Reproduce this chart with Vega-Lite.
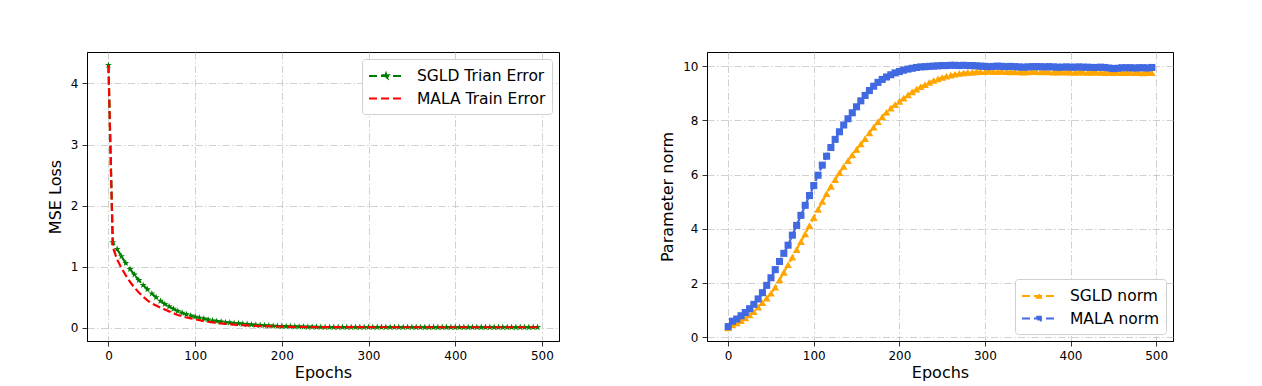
{
"$schema": "https://vega.github.io/schema/vega-lite/v6.json",
"padding": {"left": 46, "top": 51, "right": 5, "bottom": 5},
"background": "white",
"spacing": 99,
"resolve": {"scale": {"color": "independent"}, "legend": {"color": "independent"}},
"config": {
  "font": "DejaVu Sans",
  "view": {"stroke": "black", "strokeWidth": 1},
  "axis": {"grid": true, "gridColor": "#c4c4c4", "gridDash": [7, 2.5, 1.5, 2.5], "gridWidth": 0.8,
    "domainColor": "black", "domainWidth": 1, "tickColor": "black", "tickSize": 5, "tickWidth": 0.8,
    "labelFontSize": 12, "labelColor": "black", "labelPadding": 4, "labelFont": "DejaVu Sans",
    "titleFontSize": 16, "titleFontWeight": "normal", "titleColor": "black", "titleFont": "DejaVu Sans"},
  "axisX": {"titlePadding": 3},
  "axisY": {"titlePadding": 7},
  "legend": {"title": null, "fillColor": "white", "strokeColor": "#d0d0d0", "cornerRadius": 3, "padding": 6,
    "symbolSize": 400, "symbolStrokeWidth": 2, "symbolDash": [8, 4],
    "labelFontSize": 15.5, "labelColor": "black", "labelFont": "DejaVu Sans", "labelOffset": 27, "rowPadding": 2.6, "offset": 7}
},
"datasets": {
"loss": [
{"e":0,"s":"S","v":4.3},{"e":5,"s":"S","v":1.4},{"e":10,"s":"S","v":1.29},{"e":15,"s":"S","v":1.17},{"e":20,"s":"S","v":1.06},
{"e":25,"s":"S","v":0.96},{"e":30,"s":"S","v":0.87},{"e":35,"s":"S","v":0.78},{"e":40,"s":"S","v":0.7},{"e":45,"s":"S","v":0.63},
{"e":50,"s":"S","v":0.56},{"e":55,"s":"S","v":0.5},{"e":60,"s":"S","v":0.44},{"e":65,"s":"S","v":0.39},{"e":70,"s":"S","v":0.35},
{"e":75,"s":"S","v":0.31},{"e":80,"s":"S","v":0.275},{"e":85,"s":"S","v":0.245},{"e":90,"s":"S","v":0.22},{"e":95,"s":"S","v":0.2},
{"e":100,"s":"S","v":0.18},{"e":105,"s":"S","v":0.165},{"e":110,"s":"S","v":0.15},{"e":115,"s":"S","v":0.135},{"e":120,"s":"S","v":0.12},
{"e":125,"s":"S","v":0.11},{"e":130,"s":"S","v":0.1},{"e":135,"s":"S","v":0.09},{"e":140,"s":"S","v":0.085},{"e":145,"s":"S","v":0.078},
{"e":150,"s":"S","v":0.072},{"e":155,"s":"S","v":0.065},{"e":160,"s":"S","v":0.059},{"e":165,"s":"S","v":0.053},{"e":170,"s":"S","v":0.048},
{"e":175,"s":"S","v":0.044},{"e":180,"s":"S","v":0.04},{"e":185,"s":"S","v":0.036},{"e":190,"s":"S","v":0.033},{"e":195,"s":"S","v":0.03},
{"e":200,"s":"S","v":0.027},{"e":205,"s":"S","v":0.025},{"e":210,"s":"S","v":0.023},{"e":215,"s":"S","v":0.021},{"e":220,"s":"S","v":0.019},
{"e":225,"s":"S","v":0.018},{"e":230,"s":"S","v":0.016},{"e":235,"s":"S","v":0.015},{"e":240,"s":"S","v":0.014},{"e":245,"s":"S","v":0.013},
{"e":250,"s":"S","v":0.012},{"e":255,"s":"S","v":0.011},{"e":260,"s":"S","v":0.011},{"e":265,"s":"S","v":0.011},{"e":270,"s":"S","v":0.011},
{"e":275,"s":"S","v":0.011},{"e":280,"s":"S","v":0.011},{"e":285,"s":"S","v":0.011},{"e":290,"s":"S","v":0.011},{"e":295,"s":"S","v":0.011},
{"e":300,"s":"S","v":0.011},{"e":305,"s":"S","v":0.011},{"e":310,"s":"S","v":0.011},{"e":315,"s":"S","v":0.011},{"e":320,"s":"S","v":0.011},
{"e":325,"s":"S","v":0.011},{"e":330,"s":"S","v":0.011},{"e":335,"s":"S","v":0.011},{"e":340,"s":"S","v":0.011},{"e":345,"s":"S","v":0.011},
{"e":350,"s":"S","v":0.011},{"e":355,"s":"S","v":0.01},{"e":360,"s":"S","v":0.01},{"e":365,"s":"S","v":0.01},{"e":370,"s":"S","v":0.01},
{"e":375,"s":"S","v":0.01},{"e":380,"s":"S","v":0.01},{"e":385,"s":"S","v":0.01},{"e":390,"s":"S","v":0.01},{"e":395,"s":"S","v":0.01},
{"e":400,"s":"S","v":0.01},{"e":405,"s":"S","v":0.01},{"e":410,"s":"S","v":0.01},{"e":415,"s":"S","v":0.01},{"e":420,"s":"S","v":0.01},
{"e":425,"s":"S","v":0.01},{"e":430,"s":"S","v":0.01},{"e":435,"s":"S","v":0.01},{"e":440,"s":"S","v":0.01},{"e":445,"s":"S","v":0.01},
{"e":450,"s":"S","v":0.01},{"e":455,"s":"S","v":0.01},{"e":460,"s":"S","v":0.01},{"e":465,"s":"S","v":0.01},{"e":470,"s":"S","v":0.01},
{"e":475,"s":"S","v":0.01},{"e":480,"s":"S","v":0.01},{"e":485,"s":"S","v":0.01},{"e":490,"s":"S","v":0.01},{"e":495,"s":"S","v":0.01},
{"e":0,"s":"M","v":4.3},{"e":5,"s":"M","v":1.32},{"e":10,"s":"M","v":1.12},{"e":15,"s":"M","v":0.98},{"e":20,"s":"M","v":0.86},
{"e":25,"s":"M","v":0.75},{"e":30,"s":"M","v":0.66},{"e":35,"s":"M","v":0.58},{"e":40,"s":"M","v":0.51},{"e":45,"s":"M","v":0.45},
{"e":50,"s":"M","v":0.4},{"e":55,"s":"M","v":0.365},{"e":60,"s":"M","v":0.33},{"e":65,"s":"M","v":0.3},{"e":70,"s":"M","v":0.27},
{"e":75,"s":"M","v":0.24},{"e":80,"s":"M","v":0.21},{"e":85,"s":"M","v":0.19},{"e":90,"s":"M","v":0.17},{"e":95,"s":"M","v":0.155},
{"e":100,"s":"M","v":0.14},{"e":105,"s":"M","v":0.125},{"e":110,"s":"M","v":0.11},{"e":115,"s":"M","v":0.1},{"e":120,"s":"M","v":0.09},
{"e":125,"s":"M","v":0.08},{"e":130,"s":"M","v":0.072},{"e":135,"s":"M","v":0.065},{"e":140,"s":"M","v":0.06},{"e":145,"s":"M","v":0.054},
{"e":150,"s":"M","v":0.049},{"e":155,"s":"M","v":0.044},{"e":160,"s":"M","v":0.04},{"e":165,"s":"M","v":0.036},{"e":170,"s":"M","v":0.033},
{"e":175,"s":"M","v":0.03},{"e":180,"s":"M","v":0.028},{"e":185,"s":"M","v":0.026},{"e":190,"s":"M","v":0.024},{"e":195,"s":"M","v":0.022},
{"e":200,"s":"M","v":0.02},{"e":205,"s":"M","v":0.018},{"e":210,"s":"M","v":0.017},{"e":215,"s":"M","v":0.016},{"e":220,"s":"M","v":0.015},
{"e":225,"s":"M","v":0.014},{"e":230,"s":"M","v":0.013},{"e":235,"s":"M","v":0.012},{"e":240,"s":"M","v":0.012},{"e":245,"s":"M","v":0.011},
{"e":250,"s":"M","v":0.011},{"e":255,"s":"M","v":0.011},{"e":260,"s":"M","v":0.011},{"e":265,"s":"M","v":0.011},{"e":270,"s":"M","v":0.011},
{"e":275,"s":"M","v":0.011},{"e":280,"s":"M","v":0.011},{"e":285,"s":"M","v":0.011},{"e":290,"s":"M","v":0.011},{"e":295,"s":"M","v":0.011},
{"e":300,"s":"M","v":0.011},{"e":305,"s":"M","v":0.01},{"e":310,"s":"M","v":0.01},{"e":315,"s":"M","v":0.01},{"e":320,"s":"M","v":0.01},
{"e":325,"s":"M","v":0.01},{"e":330,"s":"M","v":0.01},{"e":335,"s":"M","v":0.01},{"e":340,"s":"M","v":0.01},{"e":345,"s":"M","v":0.01},
{"e":350,"s":"M","v":0.01},{"e":355,"s":"M","v":0.01},{"e":360,"s":"M","v":0.01},{"e":365,"s":"M","v":0.01},{"e":370,"s":"M","v":0.01},
{"e":375,"s":"M","v":0.01},{"e":380,"s":"M","v":0.01},{"e":385,"s":"M","v":0.01},{"e":390,"s":"M","v":0.01},{"e":395,"s":"M","v":0.01},
{"e":400,"s":"M","v":0.01},{"e":405,"s":"M","v":0.01},{"e":410,"s":"M","v":0.01},{"e":415,"s":"M","v":0.01},{"e":420,"s":"M","v":0.01},
{"e":425,"s":"M","v":0.01},{"e":430,"s":"M","v":0.01},{"e":435,"s":"M","v":0.01},{"e":440,"s":"M","v":0.01},{"e":445,"s":"M","v":0.01},
{"e":450,"s":"M","v":0.01},{"e":455,"s":"M","v":0.01},{"e":460,"s":"M","v":0.01},{"e":465,"s":"M","v":0.01},{"e":470,"s":"M","v":0.01},
{"e":475,"s":"M","v":0.01},{"e":480,"s":"M","v":0.01},{"e":485,"s":"M","v":0.01},{"e":490,"s":"M","v":0.01},{"e":495,"s":"M","v":0.01}
],
"norm": [
{"e":0,"s":"S","v":0.35},{"e":5,"s":"S","v":0.46},{"e":10,"s":"S","v":0.54},{"e":15,"s":"S","v":0.62},{"e":20,"s":"S","v":0.72},
{"e":25,"s":"S","v":0.83},{"e":30,"s":"S","v":0.95},{"e":35,"s":"S","v":1.12},{"e":40,"s":"S","v":1.28},{"e":45,"s":"S","v":1.45},
{"e":50,"s":"S","v":1.63},{"e":55,"s":"S","v":1.85},{"e":60,"s":"S","v":2.12},{"e":65,"s":"S","v":2.4},{"e":70,"s":"S","v":2.68},
{"e":75,"s":"S","v":2.96},{"e":80,"s":"S","v":3.24},{"e":85,"s":"S","v":3.53},{"e":90,"s":"S","v":3.82},{"e":95,"s":"S","v":4.12},
{"e":100,"s":"S","v":4.42},{"e":105,"s":"S","v":4.72},{"e":110,"s":"S","v":5.01},{"e":115,"s":"S","v":5.3},{"e":120,"s":"S","v":5.57},
{"e":125,"s":"S","v":5.82},{"e":130,"s":"S","v":6.07},{"e":135,"s":"S","v":6.3},{"e":140,"s":"S","v":6.52},{"e":145,"s":"S","v":6.73},
{"e":150,"s":"S","v":6.93},{"e":155,"s":"S","v":7.13},{"e":160,"s":"S","v":7.33},{"e":165,"s":"S","v":7.54},{"e":170,"s":"S","v":7.75},
{"e":175,"s":"S","v":7.95},{"e":180,"s":"S","v":8.13},{"e":185,"s":"S","v":8.3},{"e":190,"s":"S","v":8.45},{"e":195,"s":"S","v":8.58},
{"e":200,"s":"S","v":8.7},{"e":205,"s":"S","v":8.82},{"e":210,"s":"S","v":8.94},{"e":215,"s":"S","v":9.05},{"e":220,"s":"S","v":9.15},
{"e":225,"s":"S","v":9.24},{"e":230,"s":"S","v":9.32},{"e":235,"s":"S","v":9.4},{"e":240,"s":"S","v":9.47},{"e":245,"s":"S","v":9.53},
{"e":250,"s":"S","v":9.58},{"e":255,"s":"S","v":9.63},{"e":260,"s":"S","v":9.67},{"e":265,"s":"S","v":9.7},{"e":270,"s":"S","v":9.73},
{"e":275,"s":"S","v":9.75},{"e":280,"s":"S","v":9.77},{"e":285,"s":"S","v":9.78},{"e":290,"s":"S","v":9.79},{"e":295,"s":"S","v":9.8},
{"e":300,"s":"S","v":9.8},{"e":305,"s":"S","v":9.81},{"e":310,"s":"S","v":9.8},{"e":315,"s":"S","v":9.8},{"e":320,"s":"S","v":9.81},
{"e":325,"s":"S","v":9.8},{"e":330,"s":"S","v":9.79},{"e":335,"s":"S","v":9.8},{"e":340,"s":"S","v":9.79},{"e":345,"s":"S","v":9.78},
{"e":350,"s":"S","v":9.79},{"e":355,"s":"S","v":9.8},{"e":360,"s":"S","v":9.8},{"e":365,"s":"S","v":9.79},{"e":370,"s":"S","v":9.8},
{"e":375,"s":"S","v":9.79},{"e":380,"s":"S","v":9.78},{"e":385,"s":"S","v":9.78},{"e":390,"s":"S","v":9.79},{"e":395,"s":"S","v":9.78},
{"e":400,"s":"S","v":9.78},{"e":405,"s":"S","v":9.77},{"e":410,"s":"S","v":9.78},{"e":415,"s":"S","v":9.78},{"e":420,"s":"S","v":9.77},
{"e":425,"s":"S","v":9.77},{"e":430,"s":"S","v":9.78},{"e":435,"s":"S","v":9.77},{"e":440,"s":"S","v":9.76},{"e":445,"s":"S","v":9.77},
{"e":450,"s":"S","v":9.76},{"e":455,"s":"S","v":9.77},{"e":460,"s":"S","v":9.76},{"e":465,"s":"S","v":9.76},{"e":470,"s":"S","v":9.77},
{"e":475,"s":"S","v":9.76},{"e":480,"s":"S","v":9.76},{"e":485,"s":"S","v":9.75},{"e":490,"s":"S","v":9.76},{"e":495,"s":"S","v":9.76},
{"e":0,"s":"M","v":0.4},{"e":5,"s":"M","v":0.6},{"e":10,"s":"M","v":0.68},{"e":15,"s":"M","v":0.8},{"e":20,"s":"M","v":0.92},
{"e":25,"s":"M","v":1.06},{"e":30,"s":"M","v":1.22},{"e":35,"s":"M","v":1.42},{"e":40,"s":"M","v":1.65},{"e":45,"s":"M","v":1.92},
{"e":50,"s":"M","v":2.2},{"e":55,"s":"M","v":2.5},{"e":60,"s":"M","v":2.8},{"e":65,"s":"M","v":3.1},{"e":70,"s":"M","v":3.4},
{"e":75,"s":"M","v":3.77},{"e":80,"s":"M","v":4.13},{"e":85,"s":"M","v":4.5},{"e":90,"s":"M","v":4.87},{"e":95,"s":"M","v":5.23},
{"e":100,"s":"M","v":5.6},{"e":105,"s":"M","v":5.98},{"e":110,"s":"M","v":6.35},{"e":115,"s":"M","v":6.68},{"e":120,"s":"M","v":7.0},
{"e":125,"s":"M","v":7.3},{"e":130,"s":"M","v":7.58},{"e":135,"s":"M","v":7.83},{"e":140,"s":"M","v":8.06},{"e":145,"s":"M","v":8.28},
{"e":150,"s":"M","v":8.5},{"e":155,"s":"M","v":8.72},{"e":160,"s":"M","v":8.92},{"e":165,"s":"M","v":9.1},{"e":170,"s":"M","v":9.26},
{"e":175,"s":"M","v":9.4},{"e":180,"s":"M","v":9.51},{"e":185,"s":"M","v":9.6},{"e":190,"s":"M","v":9.68},{"e":195,"s":"M","v":9.75},
{"e":200,"s":"M","v":9.8},{"e":205,"s":"M","v":9.85},{"e":210,"s":"M","v":9.89},{"e":215,"s":"M","v":9.92},{"e":220,"s":"M","v":9.95},
{"e":225,"s":"M","v":9.97},{"e":230,"s":"M","v":9.98},{"e":235,"s":"M","v":9.99},{"e":240,"s":"M","v":10.0},{"e":245,"s":"M","v":10.01},
{"e":250,"s":"M","v":10.02},{"e":255,"s":"M","v":10.02},{"e":260,"s":"M","v":10.03},{"e":265,"s":"M","v":10.03},{"e":270,"s":"M","v":10.02},
{"e":275,"s":"M","v":10.03},{"e":280,"s":"M","v":10.02},{"e":285,"s":"M","v":10.02},{"e":290,"s":"M","v":10.01},{"e":295,"s":"M","v":10.0},
{"e":300,"s":"M","v":9.99},{"e":305,"s":"M","v":9.98},{"e":310,"s":"M","v":9.99},{"e":315,"s":"M","v":10.0},{"e":320,"s":"M","v":9.99},
{"e":325,"s":"M","v":9.98},{"e":330,"s":"M","v":9.99},{"e":335,"s":"M","v":9.98},{"e":340,"s":"M","v":9.97},{"e":345,"s":"M","v":9.96},
{"e":350,"s":"M","v":9.97},{"e":355,"s":"M","v":9.98},{"e":360,"s":"M","v":9.98},{"e":365,"s":"M","v":9.98},{"e":370,"s":"M","v":9.97},
{"e":375,"s":"M","v":9.98},{"e":380,"s":"M","v":9.97},{"e":385,"s":"M","v":9.96},{"e":390,"s":"M","v":9.96},{"e":395,"s":"M","v":9.97},
{"e":400,"s":"M","v":9.96},{"e":405,"s":"M","v":9.96},{"e":410,"s":"M","v":9.97},{"e":415,"s":"M","v":9.96},{"e":420,"s":"M","v":9.96},
{"e":425,"s":"M","v":9.95},{"e":430,"s":"M","v":9.95},{"e":435,"s":"M","v":9.96},{"e":440,"s":"M","v":9.95},{"e":445,"s":"M","v":9.93},
{"e":450,"s":"M","v":9.91},{"e":455,"s":"M","v":9.92},{"e":460,"s":"M","v":9.94},{"e":465,"s":"M","v":9.94},{"e":470,"s":"M","v":9.94},
{"e":475,"s":"M","v":9.93},{"e":480,"s":"M","v":9.94},{"e":485,"s":"M","v":9.94},{"e":490,"s":"M","v":9.93},{"e":495,"s":"M","v":9.95}
]
},
"hconcat": [
{
  "width": 472, "height": 289,
  "data": {"name": "loss"},
  "encoding": {
    "x": {"field": "e", "type": "quantitative", "scale": {"domain": [-24.75, 519.75], "nice": false, "zero": false},
      "axis": {"title": "Epochs", "values": [0, 100, 200, 300, 400, 500]}},
    "y": {"field": "v", "type": "quantitative", "scale": {"domain": [-0.215, 4.515], "nice": false, "zero": false},
      "axis": {"title": "MSE Loss", "values": [0, 1, 2, 3, 4]}}
  },
  "layer": [
    {"transform": [{"filter": "datum.s == 'S'"}],
     "mark": {"type": "line", "strokeDash": [8, 3.5], "strokeWidth": 2.2},
     "encoding": {"color": {"field": "s", "type": "nominal", "scale": {"domain": ["S", "M"], "range": ["#008000", "#ff0000"]},
       "legend": {"orient": "top-right", "labelExpr": "datum.label == 'S' ? 'SGLD Trian Error' : 'MALA Train Error'",
         "encode": {"symbols": {"update": {
           "shape": {"signal": "datum.value == 'S' ? 'M-1,0L2.4,0M0.7,-0.22L0.75,-0.068L0.909,-0.068L0.78,0.026L0.829,0.178L0.7,0.084L0.571,0.178L0.62,0.026L0.491,-0.068L0.65,-0.068Z' : 'M-1,0L2.4,0'"},
           "fill": {"signal": "datum.value == 'S' ? '#008000' : 'transparent'"},
           "stroke": {"signal": "datum.value == 'S' ? '#008000' : '#ff0000'"}}}}}}}},
    {"transform": [{"filter": "datum.s == 'S'"}],
     "mark": {"type": "point", "filled": true, "opacity": 1, "size": 55, "color": "#008000",
       "shape": "M0,-1L0.2245,-0.309L0.951,-0.309L0.363,0.118L0.588,0.809L0,0.382L-0.588,0.809L-0.363,0.118L-0.951,-0.309L-0.2245,-0.309Z"},
     "encoding": {}},
    {"transform": [{"filter": "datum.s == 'M'"}],
     "mark": {"type": "line", "strokeDash": [8, 3.5], "strokeWidth": 2.2},
     "encoding": {"color": {"field": "s", "type": "nominal", "scale": {"domain": ["S", "M"], "range": ["#008000", "#ff0000"]},
       "legend": {"orient": "top-right", "labelExpr": "datum.label == 'S' ? 'SGLD Trian Error' : 'MALA Train Error'"}}}}
  ]
},
{
  "width": 466, "height": 289,
  "data": {"name": "norm"},
  "encoding": {
    "x": {"field": "e", "type": "quantitative", "scale": {"domain": [-24.75, 519.75], "nice": false, "zero": false},
      "axis": {"title": "Epochs", "values": [0, 100, 200, 300, 400, 500]}},
    "y": {"field": "v", "type": "quantitative", "scale": {"domain": [-0.13, 10.52], "nice": false, "zero": false},
      "axis": {"title": "Parameter norm", "values": [0, 2, 4, 6, 8, 10]}}
  },
  "layer": [
    {"transform": [{"filter": "datum.s == 'S'"}],
     "mark": {"type": "line", "strokeDash": [8, 3.5], "strokeWidth": 2.2},
     "encoding": {"color": {"field": "s", "type": "nominal", "scale": {"domain": ["S", "M"], "range": ["#ffa500", "#4169e1"]},
       "legend": {"orient": "bottom-right", "labelExpr": "datum.label == 'S' ? 'SGLD norm' : 'MALA norm'",
         "encode": {"symbols": {"update": {
           "shape": {"signal": "datum.value == 'S' ? 'M-1,0L2.4,0M0.5,0.17L0.9,0.17L0.7,-0.2Z' : 'M-1,0L2.4,0M0.52,-0.18L0.88,-0.18L0.88,0.18L0.52,0.18Z'"},
           "fill": {"signal": "datum.value == 'S' ? '#ffa500' : '#4169e1'"},
           "stroke": {"signal": "datum.value == 'S' ? '#ffa500' : '#4169e1'"}}}}}}}},
    {"transform": [{"filter": "datum.s == 'S'"}],
     "mark": {"type": "point", "filled": true, "opacity": 1, "size": 60, "color": "#ffa500", "shape": "triangle-up"},
     "encoding": {}},
    {"transform": [{"filter": "datum.s == 'M'"}],
     "mark": {"type": "line", "strokeDash": [8, 3.5], "strokeWidth": 2.2},
     "encoding": {"color": {"field": "s", "type": "nominal", "scale": {"domain": ["S", "M"], "range": ["#ffa500", "#4169e1"]},
       "legend": {"orient": "bottom-right", "labelExpr": "datum.label == 'S' ? 'SGLD norm' : 'MALA norm'"}}}},
    {"transform": [{"filter": "datum.s == 'M'"}],
     "mark": {"type": "point", "filled": true, "opacity": 1, "size": 50, "color": "#4169e1", "shape": "square"},
     "encoding": {}}
  ]
}
]
}
